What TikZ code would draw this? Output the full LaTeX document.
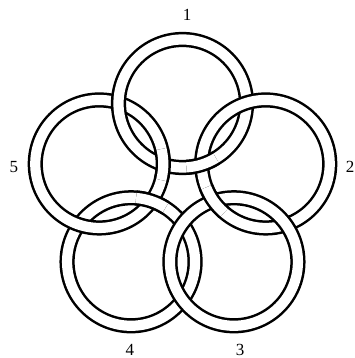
\documentclass[tikz,border=0pt]{standalone}
\usepackage{fontspec}
\setmainfont{Liberation Serif}
\usetikzlibrary{calc}
\tikzset{
  ring/.style={draw=black,line width=2.5pt,double=white,double distance=10.2pt},
  tag/.style={font=\fontsize{17}{20}\selectfont,inner sep=0pt}
}
\begin{document}
\begin{tikzpicture}[x=1pt,y=1pt]
  \useasboundingbox (-182.5,-167) rectangle (171.5,191);
  % ring centres on a pentagon
  \coordinate (c1) at (90:87.5pt);
  \coordinate (c2) at (18:87.5pt);
  \coordinate (c3) at (-54:87.5pt);
  \coordinate (c4) at (-126:87.5pt);
  \coordinate (c5) at (162:87.5pt);
  % full rings, ring 3 last so it lies over ring 4
  \draw[ring] (c4) circle[radius=64pt];
  \draw[ring] (c5) circle[radius=64pt];
  \draw[ring] (c1) circle[radius=64pt];
  \draw[ring] (c2) circle[radius=64pt];
  \draw[ring] (c3) circle[radius=64pt];
  % short arcs put back on top at the inner crossings
  \draw[ring] (c5) ++(-14.5:64pt) arc[start angle=-14.5,delta angle=28,radius=64pt];
  \draw[ring] (c1) ++(-86.5:64pt) arc[start angle=-86.5,delta angle=28,radius=64pt];
  \draw[ring] (c2) ++(-158.5:64pt) arc[start angle=-158.5,delta angle=28,radius=64pt];
  \draw[ring] (c4) ++(57.5:64pt) arc[start angle=57.5,delta angle=28,radius=64pt];
  % labels
  \node[tag] (n1) at (4.5,176) {1};
  \node[tag] (n2) at (167.5,24) {2};
  \node[tag] (n3) at (57.5,-158.5) {3};
  \node[tag] (n4) at (-52.5,-158.5) {4};
  \node[tag] (n5) at (-168.5,24) {5};
\end{tikzpicture}
\end{document}
